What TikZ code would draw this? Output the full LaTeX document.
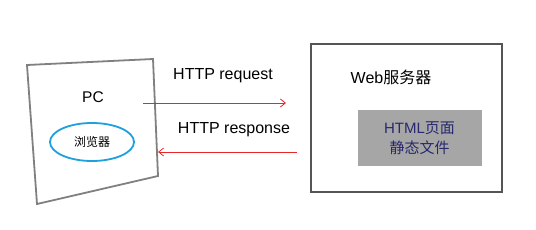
\documentclass[tikz,border=0pt]{standalone}
\usepackage{fontspec}
\setmainfont{Liberation Sans}
\newfontfamily\cjk{Noto Sans CJK SC}
\definecolor{FrameGray}{RGB}{128,128,128}
\definecolor{ServerGray}{RGB}{85,85,85}
\definecolor{PageGray}{RGB}{166,166,166}
\definecolor{PageText}{RGB}{40,40,110}
\definecolor{BrowserBlue}{RGB}{30,160,220}
\definecolor{ArrowRed}{RGB}{230,40,40}
\usetikzlibrary{positioning, arrows.meta, shapes.geometric, shadows}

\begin{document}
\begin{tikzpicture}[x=1pt, y=-1pt]
          \useasboundingbox (0,0) rectangle (536,230);
          \draw[FrameGray, line width=1.8pt] (27,65) -- (153,59) -- (158,176) -- (37,204) -- cycle;
          \node (pc) at (93,97) {\fontsize{15.5}{18}\selectfont PC};
          \node[draw=BrowserBlue, line width=1.8pt, ellipse, minimum width=84pt, minimum height=38pt, inner sep=0pt] (browser) at (92,142) {\fontsize{12}{14}\selectfont\cjk 浏览器};
          \draw[ServerGray, line width=1.8pt] (311,44) rectangle (502,192);
          \node (web) at (391,77) {\fontsize{16}{18}\selectfont Web{\cjk 服务器}};
          \node[fill=PageGray, draw=white, line width=1pt, drop shadow={opacity=0.35, shadow xshift=1pt, shadow yshift=-1pt}, minimum width=125pt, minimum height=56pt, inner sep=0pt] (page) at (419.5,138) {};
          \node[PageText, align=center, font=\fontsize{15}{20}\selectfont] (pagetext) at (page.center) {HTML{\cjk 页面}\\{\cjk 静态文件}};
          \coordinate (reqA) at (143,103);
          \coordinate (reqB) at (286,103);
          \coordinate (resA) at (297,152);
          \coordinate (resB) at (158,152);
          \draw[ArrowRed, line width=0.8pt, -{Straight Barb[length=5pt, width=8pt]}] (reqA) -- (reqB);
          \draw[ArrowRed, line width=0.8pt, -{Straight Barb[length=5pt, width=8pt]}] (resA) -- (resB);
          \node (req) at (223,76) {\fontsize{16}{18}\selectfont HTTP request};
          \node (res) at (234,130) {\fontsize{16}{18}\selectfont HTTP response};
        \end{tikzpicture}
\end{document}
